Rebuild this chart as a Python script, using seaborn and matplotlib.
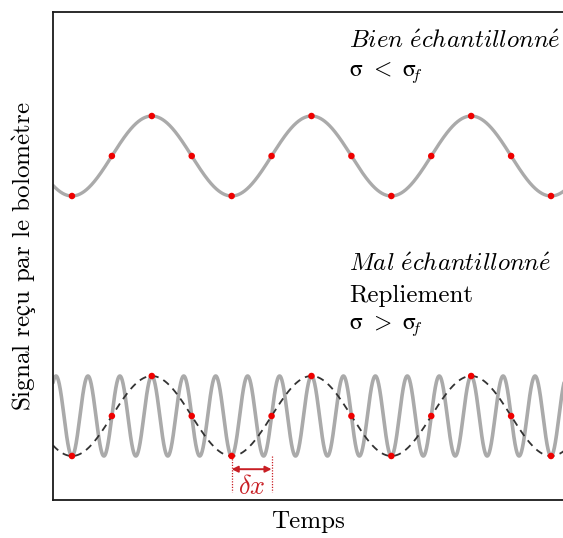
import numpy as np
import pandas as pd
import matplotlib
matplotlib.use("Agg")
import matplotlib.pyplot as plt
import seaborn as sns

# ---- data ----
sample_index = [0, 1, 2, 3, 4, 5, 6, 7, 8, 9, 10, 11, 12]
sample_values = [-1, 0, 1, 0, -1, 0, 1, 0, -1, 0, 1, 0, -1]
sample_offset = 0.475          # time of first sample
slow_freq = 0.25               # cycles per sample interval (well sampled signal)
fast_freq = 1.25               # cycles per sample interval (aliased signal)
top_center = 6.5
bottom_center = 0.0
texts_top = [r"$\mathit{Bien\ \acute{e}chantillonn\acute{e}}$", r"$\mathrm{σ}\ <\ \mathrm{σ}_{\!\!f}$"]
texts_bottom = [r"$\mathit{Mal\ \acute{e}chantillonn\acute{e}}$", "Repliement", r"$\mathrm{σ}\ >\ \mathrm{σ}_{\!\!f}$"]
xlabel = "Temps"
ylabel = r"Signal re$\mathrm{ç}$u par le bolom$\grave{\mathrm{e}}$tre"

sns.set_style("white")
plt.rcParams["font.family"] = ["cmr10", "DejaVu Serif"]
plt.rcParams["mathtext.fontset"] = "cm"
plt.rcParams["axes.unicode_minus"] = False
plt.rcParams["text.color"] = "black"
plt.rcParams["axes.labelcolor"] = "black"

fig = plt.figure(figsize=(5.63, 5.38), dpi=100)
W, H = 563, 538
ax = fig.add_axes([53 / W, 1 - 500 / H, (564 - 53) / W, (500 - 12) / H])

t = np.linspace(0, 13, 3000)
ts = np.array(sample_index) + sample_offset
vals = np.array(sample_values, dtype=float)

top_df = pd.DataFrame({"t": t, "y": top_center - np.cos(2 * np.pi * slow_freq * (t - sample_offset))})
fast_df = pd.DataFrame({"t": t, "y": bottom_center - np.cos(2 * np.pi * fast_freq * (t - sample_offset))})
slow_df = pd.DataFrame({"t": t, "y": bottom_center - np.cos(2 * np.pi * slow_freq * (t - sample_offset))})

gray = "#aaaaaa"
sns.lineplot(data=top_df, x="t", y="y", ax=ax, color=gray, lw=2.4, estimator=None, sort=False)
sns.lineplot(data=fast_df, x="t", y="y", ax=ax, color=gray, lw=2.6, estimator=None, sort=False)
ax.plot(slow_df["t"], slow_df["y"], color="#333333", lw=1.3, dashes=(4, 3))

sns.scatterplot(x=ts, y=vals + top_center, ax=ax, color="#ee0000", s=22, edgecolor="none", zorder=5)
sns.scatterplot(x=ts, y=vals + bottom_center, ax=ax, color="#ee0000", s=22, edgecolor="none", zorder=5)

ax.set_xlim(0, 12.8)
ax.set_ylim(-2.1, 10.1)
ax.set_xticks([])
ax.set_yticks([])
for sp in ax.spines.values():
    sp.set_color("#1a1a1a")
    sp.set_linewidth(1.3)

# delta x annotation
red = "#c81e24"
x0, x1 = ts[4], ts[5]
for xv in (x0, x1):
    ax.plot([xv, xv], [-1, -1.9], color=red, lw=0.9, ls=(0, (1, 1.2)))
ax.annotate("", xy=(x0, -1.33), xytext=(x1, -1.33),
            arrowprops=dict(arrowstyle="<|-|>", color=red, lw=1.4, mutation_scale=9, shrinkA=0, shrinkB=0))
ax.text((x0 + x1) / 2, -1.78, r"$\delta x$", color=red, fontsize=19, ha="center", va="center")

# texts
tx = 350 / 40 - 53 / 40
ax.text(tx, 10.1 - (42 - 12) / 40, texts_top[0], fontsize=17.8, ha="left", va="center")
ax.text(tx, 10.1 - (73 - 12) / 40, texts_top[1], fontsize=17, ha="left", va="center")
ax.text(tx, 10.1 - (265 - 12) / 40, texts_bottom[0], fontsize=17.8, ha="left", va="center")
ax.text(tx, 10.1 - (296 - 12) / 40, texts_bottom[1], fontsize=18, ha="left", va="center")
ax.text(tx, 10.1 - (326 - 12) / 40, texts_bottom[2], fontsize=17, ha="left", va="center")

ax.set_xlabel(xlabel, fontsize=18, labelpad=8)
ax.set_ylabel(ylabel, fontsize=18, labelpad=10)

fig.savefig("out.png", dpi=100)
